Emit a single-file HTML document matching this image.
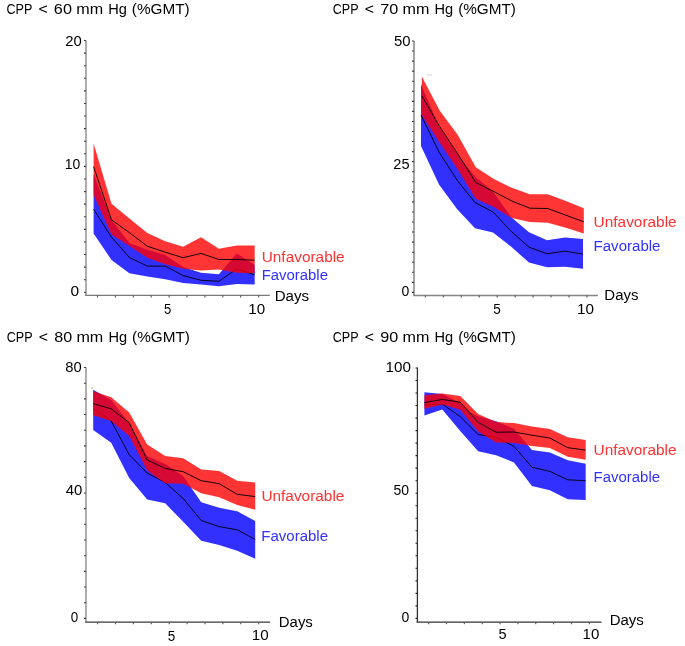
<!DOCTYPE html>
<html><head><meta charset="utf-8"><style>
html,body{margin:0;padding:0;background:#fff;}
svg{display:block;will-change:transform;}
text{font-family:"Liberation Sans",sans-serif;font-size:14px;font-kerning:none;}
</style></head><body>
<svg width="685" height="646" viewBox="0 0 685 646">
<rect width="685" height="646" fill="#fff"/>
<polygon points="93.60,173.90 111.50,220.00 129.40,243.00 147.30,249.80 165.20,255.00 183.10,267.00 201.00,272.70 218.90,274.30 236.80,253.40 254.70,265.10 254.70,284.60 236.80,284.00 218.90,286.20 201.00,284.60 183.10,282.90 165.20,279.30 147.30,276.60 129.40,273.20 111.50,260.00 93.60,233.40" fill="#3230ff"/>
<polyline points="93.60,209.20 111.50,237.20 129.40,257.50 147.30,266.10 165.20,266.10 183.10,275.50 201.00,280.30 218.90,281.30 236.80,268.90 254.70,274.80" fill="none" stroke="#000" stroke-width="1" stroke-opacity="0.9"/>
<polygon points="93.60,143.40 111.50,203.80 129.40,218.50 147.30,233.00 165.20,241.30 183.10,246.80 201.00,237.30 218.90,248.80 236.80,245.60 254.70,245.60 254.70,273.20 236.80,272.70 218.90,269.40 201.00,270.50 183.10,268.80 165.20,264.20 147.30,257.80 129.40,246.00 111.50,234.50 93.60,194.80" fill="#ff0000" fill-opacity="0.796"/>
<polyline points="93.60,166.70 111.50,219.80 129.40,232.60 147.30,246.20 165.20,252.20 183.10,257.70 201.00,253.40 218.90,259.50 236.80,259.50 254.70,260.20" fill="none" stroke="#000" stroke-width="1" stroke-opacity="0.9"/>
<path d="M86.00 40.50V295.40" fill="none" stroke="#9a9a9a" stroke-width="1.6"/>
<path d="M85.20 295.40H269.80" fill="none" stroke="#7a7a7a" stroke-width="1.4"/>
<path d="M84.10 292.30H85.80M84.10 279.71H85.80M84.10 267.12H85.80M84.10 254.53H85.80M84.10 241.94H85.80M84.10 229.35H85.80M84.10 216.76H85.80M84.10 204.17H85.80M84.10 191.58H85.80M84.10 178.99H85.80M84.10 166.40H85.80M84.10 153.81H85.80M84.10 141.22H85.80M84.10 128.63H85.80M84.10 116.04H85.80M84.10 103.45H85.80M84.10 90.86H85.80M84.10 78.27H85.80M84.10 65.68H85.80M84.10 53.09H85.80M84.10 40.50H85.80" fill="none" stroke="#222" stroke-width="1.1"/>
<path d="M97.50 295.40V297.40M115.40 295.40V297.40M133.30 295.40V297.40M151.20 295.40V297.40M169.10 295.40V297.40M187.00 295.40V297.40M204.90 295.40V297.40M222.80 295.40V297.40M240.70 295.40V297.40M258.60 295.40V297.40" fill="none" stroke="#555" stroke-width="1.1"/>
<text x="6.46" y="13.80" textLength="25.90" lengthAdjust="spacingAndGlyphs" fill="#000">CPP</text>
<text x="38.52" y="13.80" textLength="9.26" lengthAdjust="spacingAndGlyphs" fill="#000">&lt;</text>
<text x="53.88" y="13.80" textLength="18.06" lengthAdjust="spacingAndGlyphs" fill="#000">60</text>
<text x="76.23" y="13.80" textLength="26.83" lengthAdjust="spacingAndGlyphs" fill="#000">mm</text>
<text x="108.20" y="13.80" textLength="18.64" lengthAdjust="spacingAndGlyphs" fill="#000">Hg</text>
<text x="131.85" y="13.80" textLength="57.80" lengthAdjust="spacingAndGlyphs" fill="#000">(%GMT)</text>
<text x="65.15" y="45.50" textLength="16.53" lengthAdjust="spacingAndGlyphs" fill="#000">20</text>
<text x="64.84" y="168.50" textLength="15.51" lengthAdjust="spacingAndGlyphs" fill="#000">10</text>
<text x="70.40" y="295.60" textLength="8.61" lengthAdjust="spacingAndGlyphs" fill="#000">0</text>
<text x="164.08" y="313.80" textLength="7.27" lengthAdjust="spacingAndGlyphs" fill="#000">5</text>
<text x="248.25" y="313.60" textLength="16.85" lengthAdjust="spacingAndGlyphs" fill="#000">10</text>
<text x="274.66" y="300.80" textLength="34.49" lengthAdjust="spacingAndGlyphs" fill="#000">Days</text>
<text x="261.71" y="262.30" textLength="82.97" lengthAdjust="spacingAndGlyphs" fill="#ff3030">Unfavorable</text>
<text x="261.68" y="279.70" textLength="66.29" lengthAdjust="spacingAndGlyphs" fill="#3030ff">Favorable</text>
<polygon points="421.00,84.30 439.00,126.50 457.00,153.50 475.00,176.50 493.00,191.50 511.00,217.00 529.00,232.30 547.00,240.20 565.00,237.40 583.00,239.00 583.00,268.80 565.00,266.80 547.00,267.20 529.00,262.60 511.00,246.50 493.00,232.60 475.00,228.20 457.00,209.00 439.00,184.50 421.00,145.90" fill="#3230ff"/>
<polyline points="421.00,114.90 439.00,152.00 457.00,180.00 475.00,202.50 493.00,212.00 511.00,231.20 529.00,247.20 547.00,253.70 565.00,251.20 583.00,254.10" fill="none" stroke="#000" stroke-width="1" stroke-opacity="0.9"/>
<polygon points="421.80,76.40 439.80,110.70 457.80,135.10 475.80,167.20 493.80,179.00 511.80,187.80 529.80,194.30 547.80,194.30 565.80,200.90 583.80,208.20 583.80,233.40 565.80,227.70 547.80,222.80 529.80,222.00 511.80,218.00 493.80,206.90 475.80,198.80 457.80,169.40 439.80,143.00 421.80,115.00" fill="#ff0000" fill-opacity="0.796"/>
<polyline points="421.80,95.80 439.80,126.80 457.80,154.00 475.80,182.60 493.80,191.50 511.80,201.00 529.80,208.20 547.80,208.50 565.80,215.20 583.80,221.80" fill="none" stroke="#000" stroke-width="1" stroke-opacity="0.9"/>
<path d="M414.00 41.00V295.50" fill="none" stroke="#8c8c8c" stroke-width="1.6"/>
<path d="M413.20 295.50H597.90" fill="none" stroke="#858585" stroke-width="1.4"/>
<path d="M412.10 292.40H413.80M412.10 282.34H413.80M412.10 272.29H413.80M412.10 262.23H413.80M412.10 252.18H413.80M412.10 242.12H413.80M412.10 232.06H413.80M412.10 222.01H413.80M412.10 211.95H413.80M412.10 201.90H413.80M412.10 191.84H413.80M412.10 181.78H413.80M412.10 171.73H413.80M412.10 161.67H413.80M412.10 151.62H413.80M412.10 141.56H413.80M412.10 131.50H413.80M412.10 121.45H413.80M412.10 111.39H413.80M412.10 101.34H413.80M412.10 91.28H413.80M412.10 81.22H413.80M412.10 71.17H413.80M412.10 61.11H413.80M412.10 51.06H413.80M412.10 41.00H413.80" fill="none" stroke="#222" stroke-width="1.1"/>
<path d="M425.40 295.50V297.50M443.35 295.50V297.50M461.30 295.50V297.50M479.25 295.50V297.50M497.20 295.50V297.50M515.15 295.50V297.50M533.10 295.50V297.50M551.05 295.50V297.50M569.00 295.50V297.50M586.95 295.50V297.50" fill="none" stroke="#555" stroke-width="1.1"/>
<text x="332.76" y="13.80" textLength="25.90" lengthAdjust="spacingAndGlyphs" fill="#000">CPP</text>
<text x="364.82" y="13.80" textLength="9.26" lengthAdjust="spacingAndGlyphs" fill="#000">&lt;</text>
<text x="380.17" y="13.80" textLength="18.07" lengthAdjust="spacingAndGlyphs" fill="#000">70</text>
<text x="402.53" y="13.80" textLength="26.83" lengthAdjust="spacingAndGlyphs" fill="#000">mm</text>
<text x="434.50" y="13.80" textLength="18.64" lengthAdjust="spacingAndGlyphs" fill="#000">Hg</text>
<text x="458.15" y="13.80" textLength="57.80" lengthAdjust="spacingAndGlyphs" fill="#000">(%GMT)</text>
<text x="394.00" y="45.50" textLength="16.58" lengthAdjust="spacingAndGlyphs" fill="#000">50</text>
<text x="393.37" y="168.50" textLength="16.25" lengthAdjust="spacingAndGlyphs" fill="#000">25</text>
<text x="401.45" y="295.70" textLength="7.79" lengthAdjust="spacingAndGlyphs" fill="#000">0</text>
<text x="493.16" y="313.80" textLength="7.51" lengthAdjust="spacingAndGlyphs" fill="#000">5</text>
<text x="576.94" y="313.50" textLength="16.96" lengthAdjust="spacingAndGlyphs" fill="#000">10</text>
<text x="604.37" y="300.40" textLength="34.07" lengthAdjust="spacingAndGlyphs" fill="#000">Days</text>
<text x="593.61" y="226.60" textLength="83.07" lengthAdjust="spacingAndGlyphs" fill="#ff3030">Unfavorable</text>
<text x="593.57" y="250.60" textLength="66.90" lengthAdjust="spacingAndGlyphs" fill="#3030ff">Favorable</text>
<polygon points="93.20,389.70 111.20,400.00 129.20,423.00 147.20,456.00 165.20,464.00 183.20,475.90 201.20,502.20 219.20,507.80 237.20,511.30 255.20,521.00 255.20,558.70 237.20,550.70 219.20,545.00 201.20,540.70 183.20,521.80 165.20,503.30 147.20,499.40 129.20,478.00 111.20,442.80 93.20,430.10" fill="#3230ff"/>
<polyline points="93.20,408.80 111.20,421.00 129.20,454.70 147.20,473.10 165.20,482.40 183.20,498.50 201.20,520.50 219.20,526.60 237.20,529.80 255.20,539.40" fill="none" stroke="#000" stroke-width="1" stroke-opacity="0.9"/>
<polygon points="93.20,391.20 111.20,397.30 129.20,412.50 147.20,444.40 165.20,455.90 183.20,458.20 201.20,469.60 219.20,471.10 237.20,480.70 255.20,482.40 255.20,509.80 237.20,505.00 219.20,497.30 201.20,493.20 183.20,483.70 165.20,483.30 147.20,470.50 129.20,436.00 111.20,421.00 93.20,415.30" fill="#ff0000" fill-opacity="0.796"/>
<polyline points="93.20,403.70 111.20,408.80 129.20,422.70 147.20,460.00 165.20,468.40 183.20,471.70 201.20,480.70 219.20,483.70 237.20,494.30 255.20,496.60" fill="none" stroke="#000" stroke-width="1" stroke-opacity="0.9"/>
<path d="M86.00 367.50V622.20" fill="none" stroke="#9a9a9a" stroke-width="1.6"/>
<path d="M85.20 622.20H270.10" fill="none" stroke="#383838" stroke-width="1.3"/>
<path d="M84.10 618.40H85.80M84.10 602.72H85.80M84.10 587.04H85.80M84.10 571.36H85.80M84.10 555.68H85.80M84.10 540.00H85.80M84.10 524.32H85.80M84.10 508.64H85.80M84.10 492.96H85.80M84.10 477.28H85.80M84.10 461.60H85.80M84.10 445.92H85.80M84.10 430.24H85.80M84.10 414.56H85.80M84.10 398.88H85.80M84.10 383.20H85.80M84.10 367.52H85.80" fill="none" stroke="#222" stroke-width="1.1"/>
<path d="M97.60 622.20V624.20M115.50 622.20V624.20M133.40 622.20V624.20M151.30 622.20V624.20M169.20 622.20V624.20M187.10 622.20V624.20M205.00 622.20V624.20M222.90 622.20V624.20M240.80 622.20V624.20M258.70 622.20V624.20" fill="none" stroke="#555" stroke-width="1.1"/>
<text x="6.66" y="341.50" textLength="25.90" lengthAdjust="spacingAndGlyphs" fill="#000">CPP</text>
<text x="38.72" y="341.50" textLength="9.26" lengthAdjust="spacingAndGlyphs" fill="#000">&lt;</text>
<text x="54.20" y="341.50" textLength="17.93" lengthAdjust="spacingAndGlyphs" fill="#000">80</text>
<text x="76.43" y="341.50" textLength="26.83" lengthAdjust="spacingAndGlyphs" fill="#000">mm</text>
<text x="108.40" y="341.50" textLength="18.64" lengthAdjust="spacingAndGlyphs" fill="#000">Hg</text>
<text x="132.05" y="341.50" textLength="57.80" lengthAdjust="spacingAndGlyphs" fill="#000">(%GMT)</text>
<text x="65.26" y="372.30" textLength="16.42" lengthAdjust="spacingAndGlyphs" fill="#000">80</text>
<text x="65.66" y="495.10" textLength="16.63" lengthAdjust="spacingAndGlyphs" fill="#000">40</text>
<text x="70.68" y="622.10" textLength="7.45" lengthAdjust="spacingAndGlyphs" fill="#000">0</text>
<text x="167.86" y="640.70" textLength="7.51" lengthAdjust="spacingAndGlyphs" fill="#000">5</text>
<text x="251.75" y="640.30" textLength="16.85" lengthAdjust="spacingAndGlyphs" fill="#000">10</text>
<text x="278.77" y="627.40" textLength="34.07" lengthAdjust="spacingAndGlyphs" fill="#000">Days</text>
<text x="261.41" y="501.30" textLength="82.97" lengthAdjust="spacingAndGlyphs" fill="#ff3030">Unfavorable</text>
<text x="261.37" y="540.80" textLength="66.70" lengthAdjust="spacingAndGlyphs" fill="#3030ff">Favorable</text>
<polygon points="424.40,392.20 442.32,393.90 460.24,402.80 470.10,412.30 478.16,416.20 496.08,421.30 514.00,428.70 531.92,450.00 549.84,452.60 567.76,460.30 585.68,463.70 585.68,500.00 567.76,499.30 549.84,490.20 531.92,486.00 514.00,462.40 496.08,455.30 478.16,451.30 460.24,431.00 442.32,409.60 424.40,415.60" fill="#3230ff"/>
<polyline points="424.40,405.00 442.32,404.00 460.24,416.60 478.16,434.50 496.08,437.50 514.00,446.30 531.92,467.20 549.84,471.40 567.76,479.80 585.68,480.70" fill="none" stroke="#000" stroke-width="1" stroke-opacity="0.9"/>
<polygon points="424.40,395.20 442.32,393.40 460.24,396.10 478.16,414.00 496.08,422.10 514.00,423.10 531.92,426.50 549.84,428.90 567.76,437.30 585.68,440.10 585.68,459.80 567.76,456.80 549.84,448.10 531.92,446.00 514.00,443.00 496.08,442.40 478.16,431.50 460.24,409.80 442.32,404.50 424.40,408.70" fill="#ff0000" fill-opacity="0.796"/>
<polyline points="424.40,402.60 442.32,399.40 460.24,402.20 478.16,422.40 496.08,432.20 514.00,432.00 531.92,435.20 549.84,438.00 567.76,447.70 585.68,450.10" fill="none" stroke="#000" stroke-width="1" stroke-opacity="0.9"/>
<path d="M417.40 367.50V622.20" fill="none" stroke="#333333" stroke-width="1.3"/>
<path d="M416.60 622.20H601.50" fill="none" stroke="#333333" stroke-width="1.3"/>
<path d="M415.50 618.40H417.20M415.50 605.88H417.20M415.50 593.36H417.20M415.50 580.84H417.20M415.50 568.32H417.20M415.50 555.80H417.20M415.50 543.28H417.20M415.50 530.76H417.20M415.50 518.24H417.20M415.50 505.72H417.20M415.50 493.20H417.20M415.50 480.68H417.20M415.50 468.16H417.20M415.50 455.64H417.20M415.50 443.12H417.20M415.50 430.60H417.20M415.50 418.08H417.20M415.50 405.56H417.20M415.50 393.04H417.20M415.50 380.52H417.20M415.50 368.00H417.20" fill="none" stroke="#222" stroke-width="1.1"/>
<path d="M428.60 622.20V624.20M446.46 622.20V624.20M464.32 622.20V624.20M482.18 622.20V624.20M500.04 622.20V624.20M517.90 622.20V624.20M535.76 622.20V624.20M553.62 622.20V624.20M571.48 622.20V624.20M589.34 622.20V624.20" fill="none" stroke="#555" stroke-width="1.1"/>
<text x="332.76" y="341.50" textLength="25.90" lengthAdjust="spacingAndGlyphs" fill="#000">CPP</text>
<text x="364.82" y="341.50" textLength="9.26" lengthAdjust="spacingAndGlyphs" fill="#000">&lt;</text>
<text x="380.24" y="341.50" textLength="17.99" lengthAdjust="spacingAndGlyphs" fill="#000">90</text>
<text x="402.53" y="341.50" textLength="26.83" lengthAdjust="spacingAndGlyphs" fill="#000">mm</text>
<text x="434.50" y="341.50" textLength="18.64" lengthAdjust="spacingAndGlyphs" fill="#000">Hg</text>
<text x="458.15" y="341.50" textLength="57.80" lengthAdjust="spacingAndGlyphs" fill="#000">(%GMT)</text>
<text x="385.44" y="372.30" textLength="25.46" lengthAdjust="spacingAndGlyphs" fill="#000">100</text>
<text x="393.54" y="495.10" textLength="15.61" lengthAdjust="spacingAndGlyphs" fill="#000">50</text>
<text x="401.45" y="622.00" textLength="7.79" lengthAdjust="spacingAndGlyphs" fill="#000">0</text>
<text x="498.42" y="638.70" textLength="8.09" lengthAdjust="spacingAndGlyphs" fill="#000">5</text>
<text x="582.55" y="638.60" textLength="16.73" lengthAdjust="spacingAndGlyphs" fill="#000">10</text>
<text x="609.67" y="625.40" textLength="34.17" lengthAdjust="spacingAndGlyphs" fill="#000">Days</text>
<text x="593.61" y="454.70" textLength="82.97" lengthAdjust="spacingAndGlyphs" fill="#ff3030">Unfavorable</text>
<text x="593.57" y="482.00" textLength="66.49" lengthAdjust="spacingAndGlyphs" fill="#3030ff">Favorable</text>
<rect x="427" y="74.2" width="5" height="1.4" fill="#e2e2e2"/>
<rect x="91" y="387.1" width="1.8" height="1.6" fill="#c8c8c8"/>
<rect x="412.6" y="366.2" width="1.3" height="3.2" fill="#dfe0f8"/>
</svg>
</body></html>
